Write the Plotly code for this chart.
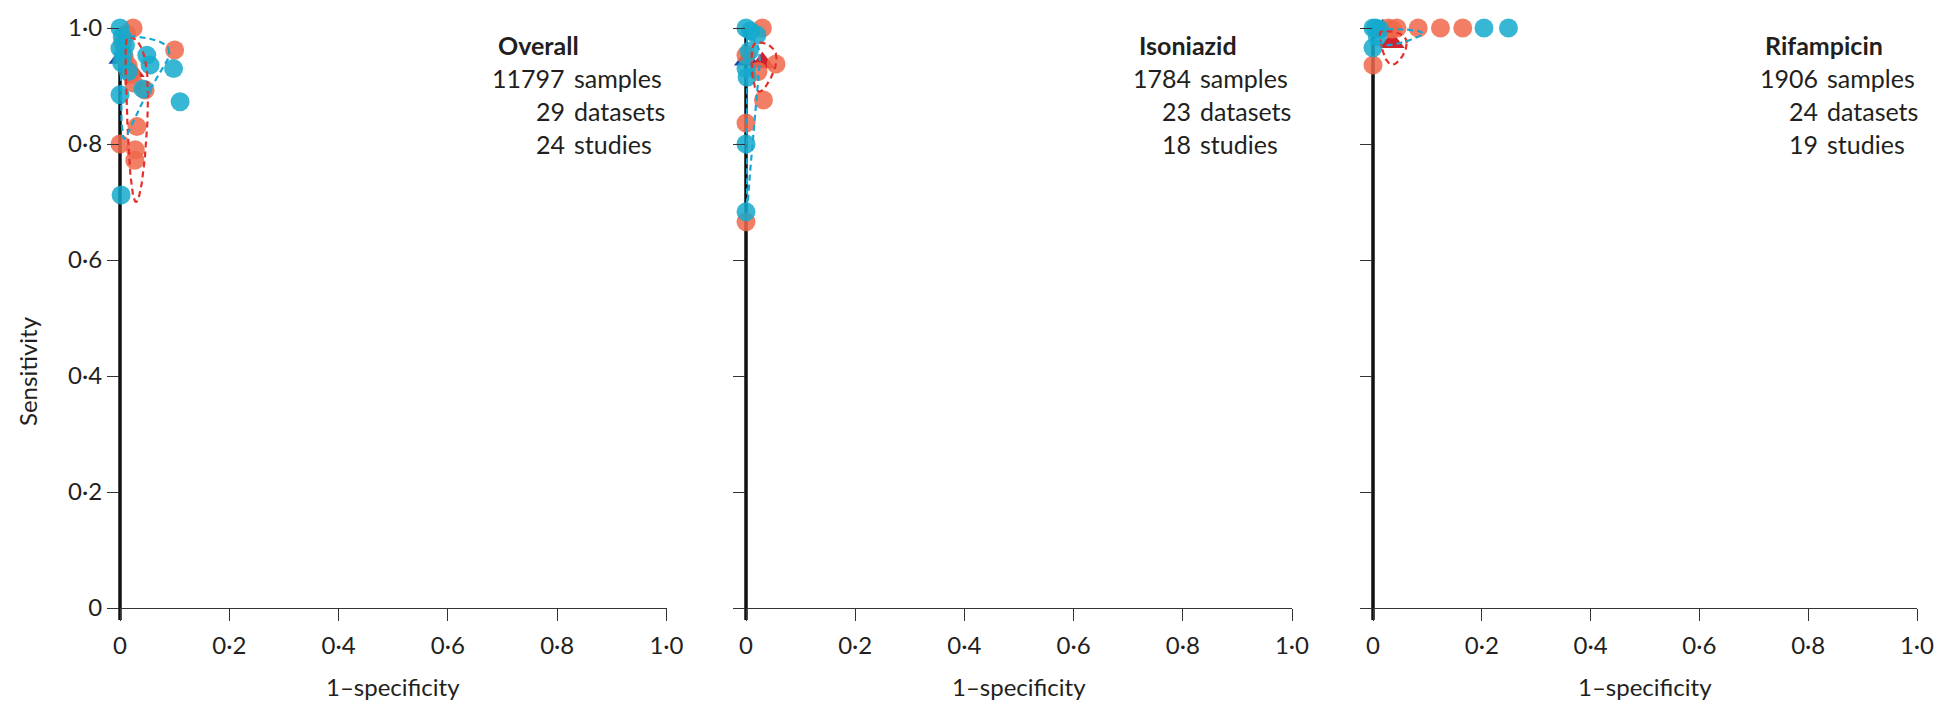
import numpy as np
import plotly.graph_objects as go

W, H = 1939, 709

# ---------------- data ----------------
panel_names = ["Overall", "Isoniazid", "Rifampicin"]
n_samples = ["11797", "1784", "1906"]
n_datasets = ["29", "23", "24"]
n_studies = ["24", "18", "19"]

tick_vals = [0, 0.2, 0.4, 0.6, 0.8, 1.0]
tick_text = ["0", "0·2", "0·4", "0·6", "0·8", "1·0"]

# study points: (1-specificity, sensitivity); group A = orange, group B = cyan
overall_a_fpr = [0.000, 0.024, 0.100, 0.031, 0.028, 0.027, 0.046, 0.020, 0.015, 0.025, 0.008, 0.005, 0.012]
overall_a_sens = [0.800, 1.000, 0.962, 0.830, 0.790, 0.772, 0.893, 0.920, 0.935, 0.905, 0.950, 0.975, 0.990]
overall_b_fpr = [0.000, 0.004, 0.010, 0.006, 0.000, 0.002, 0.098, 0.110, 0.049, 0.055, 0.042, 0.003, 0.000, 0.015]
overall_b_sens = [1.000, 0.985, 0.970, 0.955, 0.885, 0.712, 0.930, 0.873, 0.953, 0.936, 0.895, 0.940, 0.965, 0.925]

inh_a_fpr = [0.030, 0.000, 0.055, 0.032, 0.000, 0.000, 0.022]
inh_a_sens = [1.000, 0.953, 0.938, 0.876, 0.836, 0.666, 0.925]
inh_b_fpr = [0.000, 0.020, 0.008, 0.000, 0.002, 0.000, 0.000, 0.006]
inh_b_sens = [1.000, 0.988, 0.995, 0.930, 0.915, 0.800, 0.683, 0.960]

rif_a_fpr = [0.028, 0.044, 0.083, 0.124, 0.165, 0.000, 0.035]
rif_a_sens = [1.000, 1.000, 1.000, 1.000, 1.000, 0.936, 0.998]
rif_b_fpr = [0.000, 0.005, 0.012, 0.204, 0.249, 0.000, 0.008]
rif_b_sens = [1.000, 1.000, 0.998, 1.000, 1.000, 0.966, 0.985]

# summary estimates (1-specificity, sensitivity)
summary_a_fpr = [0.022, 0.030, 0.035]
summary_a_sens = [0.925, 0.940, 0.975]
summary_b_fpr = [0.002, 0.001, 0.018]
summary_b_sens = [0.948, 0.945, 0.997]

# confidence regions in logit space: centre fpr, centre sens, half-width (logit fpr), half-height (logit sens), correlation
region_a = [(0.023, 0.924, 0.83, 1.65, -0.30),
            (0.024, 0.947, 0.88, 0.79, 0.00),
            (0.028, 0.982, 0.83, 1.30, -0.30)]
region_b = [(0.012, 0.945, 2.10, 1.40, 0.20),
            (0.0036, 0.924, 1.97, 1.67, 0.20),
            (0.017, 0.9945, 1.75, 1.70, -0.30)]

points_a = [(overall_a_fpr, overall_a_sens), (inh_a_fpr, inh_a_sens), (rif_a_fpr, rif_a_sens)]
points_b = [(overall_b_fpr, overall_b_sens), (inh_b_fpr, inh_b_sens), (rif_b_fpr, rif_b_sens)]

# ---------------- styling ----------------
ORANGE = "rgba(240,104,74,0.85)"
CYAN = "rgba(20,170,205,0.85)"
RED_LINE = "#E5302A"
CYAN_LINE = "#1AA6D2"
RED_TRI = "#D2202C"
BLUE_TRI = "#1F45A0"
FONT = "Lato, 'Open Sans', sans-serif"
TXT = "#231F20"


def logit(p):
    return np.log(p / (1 - p))


def expit(z):
    return 1 / (1 + np.exp(-z))


def region_curve(cfpr, csens, a, b, rho):
    t = np.linspace(0, 2 * np.pi, 240)
    lx = logit(cfpr) + a * np.cos(t)
    ly = logit(csens) + b * (rho * np.cos(t) + np.sqrt(1 - rho ** 2) * np.sin(t))
    return expit(lx), expit(ly)


px_domains = [(120, 666.5), (746, 1292), (1373, 1917)]
y_top, y_bot = 28, 608

fig = go.Figure()

for i in range(3):
    xa = "x" if i == 0 else f"x{i+1}"
    ya = "y" if i == 0 else f"y{i+1}"
    fig.add_trace(go.Scatter(x=[summary_b_fpr[i]], y=[summary_b_sens[i]], mode="markers",
                             marker=dict(symbol="triangle-up", size=22, color=BLUE_TRI),
                             xaxis=xa, yaxis=ya, cliponaxis=False, showlegend=False))
    fig.add_trace(go.Scatter(x=[summary_a_fpr[i]], y=[summary_a_sens[i]], mode="markers",
                             marker=dict(symbol="triangle-up", size=22, color=RED_TRI),
                             xaxis=xa, yaxis=ya, cliponaxis=False, showlegend=False))
    fig.add_trace(go.Scatter(x=points_a[i][0], y=points_a[i][1], mode="markers",
                             marker=dict(size=19, color=ORANGE, line=dict(width=0)),
                             xaxis=xa, yaxis=ya, cliponaxis=False, showlegend=False))
    fig.add_trace(go.Scatter(x=points_b[i][0], y=points_b[i][1], mode="markers",
                             marker=dict(size=19, color=CYAN, line=dict(width=0)),
                             xaxis=xa, yaxis=ya, cliponaxis=False, showlegend=False))
    rx, ry = region_curve(*region_a[i])
    fig.add_trace(go.Scatter(x=rx, y=ry, mode="lines",
                             line=dict(color=RED_LINE, width=2.2, dash="6px,4px"),
                             xaxis=xa, yaxis=ya, cliponaxis=False, showlegend=False))
    rx, ry = region_curve(*region_b[i])
    fig.add_trace(go.Scatter(x=rx, y=ry, mode="lines",
                             line=dict(color=CYAN_LINE, width=2.2, dash="6px,4px"),
                             xaxis=xa, yaxis=ya, cliponaxis=False, showlegend=False))

layout = dict(width=W, height=H, margin=dict(l=0, r=0, t=0, b=0, pad=0), autosize=False,
              paper_bgcolor="white", plot_bgcolor="rgba(0,0,0,0)",
              font=dict(family=FONT, color=TXT, size=24), showlegend=False)

shapes = []
annotations = []
for i in range(3):
    sfx = "" if i == 0 else str(i + 1)
    x0, x1 = px_domains[i]
    layout["xaxis" + sfx] = dict(domain=[x0 / W, x1 / W], range=[0, 1.0], showgrid=False, zeroline=False,
                                 showline=True, linecolor="#333", linewidth=1.3, automargin=False,
                                 ticks="outside", ticklen=12, tickwidth=1.3, tickcolor="#333",
                                 ticklabelstandoff=4,
                                 tickvals=tick_vals, ticktext=tick_text,
                                 tickfont=dict(size=24, family=FONT, color=TXT),
                                 anchor="y" + sfx, fixedrange=True)
    layout["yaxis" + sfx] = dict(domain=[1 - y_bot / H, 1 - y_top / H], range=[0, 1.0], showgrid=False,
                                 zeroline=False, showline=False, automargin=False,
                                 ticks="outside", ticklen=12, tickwidth=1.3, tickcolor="#333",
                                 tickvals=tick_vals, ticktext=tick_text, showticklabels=(i == 0),
                                 tickfont=dict(size=24, family=FONT, color=TXT),
                                 anchor="x" + sfx, fixedrange=True)
    # thick y axis line (paper coordinates so it is not clipped)
    shapes.append(dict(type="line", xref="paper", yref="paper", x0=x0 / W, x1=x0 / W,
                       y0=1 - (y_bot + 12) / H, y1=1 - y_top / H,
                       line=dict(color="#111", width=3.5), layer="below"))
    annotations.append(dict(text="1–specificity", xref="paper", yref="paper",
                            x=(x0 + x1) / 2 / W, y=1 - 686.5 / H, showarrow=False,
                            xanchor="center", yanchor="middle", font=dict(size=24)))

title_left = [496, 1137, 1763]
num_right = [567, 1193, 1820]
word_left = [572, 1198, 1825]
rows_y = [78, 111, 144]
for i in range(3):
    annotations.append(dict(text="<b>" + panel_names[i] + "</b>", xref="paper", yref="paper",
                            x=title_left[i] / W, y=1 - 45 / H, showarrow=False,
                            xanchor="left", yanchor="middle", font=dict(size=25)))
    for num, word, yy in zip([n_samples[i], n_datasets[i], n_studies[i]],
                             ["samples", "datasets", "studies"], rows_y):
        annotations.append(dict(text=num, xref="paper", yref="paper", x=num_right[i] / W, y=1 - yy / H,
                                showarrow=False, xanchor="right", yanchor="middle", font=dict(size=25)))
        annotations.append(dict(text=word, xref="paper", yref="paper", x=word_left[i] / W, y=1 - yy / H,
                                showarrow=False, xanchor="left", yanchor="middle", font=dict(size=25)))

annotations.append(dict(text="Sensitivity", xref="paper", yref="paper", x=27 / W, y=1 - 371 / H,
                        showarrow=False, textangle=-90, xanchor="center", yanchor="middle",
                        font=dict(size=24)))

layout["shapes"] = shapes
layout["annotations"] = annotations
fig.update_layout(**layout)

fig.write_html("out.html", config={"displayModeBar": False})
